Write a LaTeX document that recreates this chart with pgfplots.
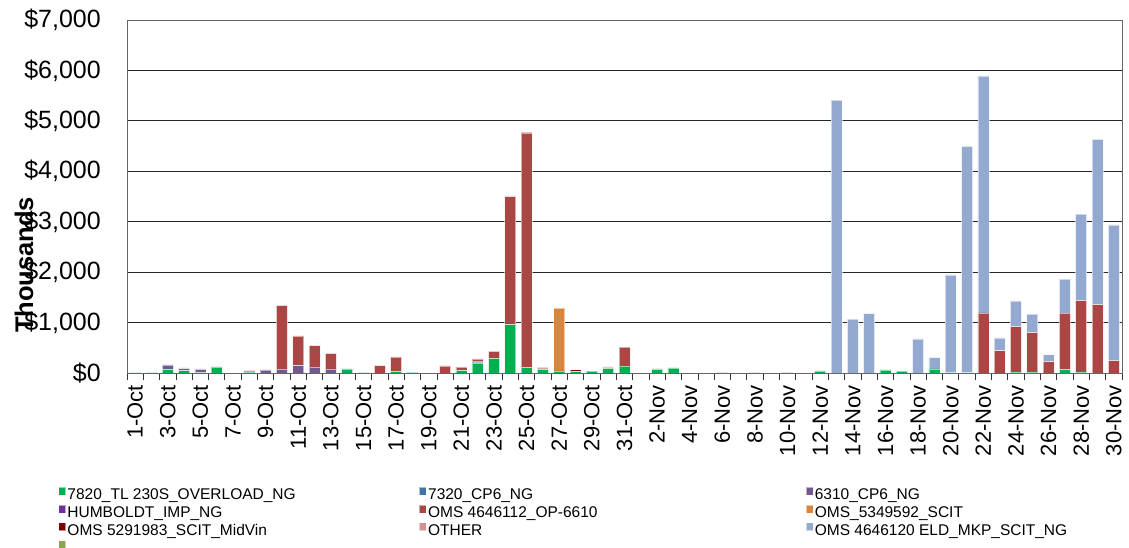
\documentclass[border=0pt]{standalone}
\usepackage{fontspec}
\setmainfont{Liberation Sans}
\usepackage{pgfplots}
\usepackage{pgfplotstable}
\pgfplotsset{compat=1.18}
\definecolor{cg}{HTML}{00B050}
\definecolor{cb}{HTML}{4572A7}
\definecolor{cp}{HTML}{71588F}
\definecolor{ch}{HTML}{7030A0}
\definecolor{cr}{HTML}{AA4643}
\definecolor{co}{HTML}{DB843D}
\definecolor{cm}{HTML}{7F0000}
\definecolor{ct}{HTML}{D19392}
\definecolor{cl}{HTML}{93A9CF}
\definecolor{cu}{HTML}{89A54E}
\pgfplotsset{mybar/.style={fill=#1, draw=white, draw opacity=0.55, line width=0.7pt,
  legend image code/.code={\fill[fill=#1] (0pt,0.5pt) rectangle (7pt,8.5pt);}}}
\newcommand{\ca}[1]{\makebox[350pt][l]{#1}}
\newcommand{\cb}[1]{\makebox[376pt][l]{#1}}
\pgfplotstableread{
x g b p h r o m t l
0 8 0 0 0 0 0 0 0 0
1 5 0 0 0 0 0 0 0 0
2 70 0 90 0 0 0 0 0 0
3 45 0 40 0 0 0 0 15 0
4 10 0 60 0 0 0 0 10 0
5 115 0 0 0 0 0 0 10 0
6 0 0 0 0 0 0 0 0 0
7 20 0 15 0 0 0 0 15 0
8 0 0 60 0 0 0 0 0 0
9 0 0 75 0 1260 0 0 10 0
10 0 0 145 0 585 0 0 5 0
11 0 0 120 0 420 0 0 10 0
12 0 0 80 0 305 0 0 15 0
13 80 0 0 0 0 0 0 0 0
14 5 0 0 0 0 0 0 0 0
15 0 0 0 0 145 0 0 0 0
16 30 0 0 0 285 0 0 5 0
17 10 0 0 0 0 0 0 0 0
18 0 0 0 0 0 0 0 0 0
19 0 0 0 0 140 0 0 0 0
20 45 0 0 0 70 0 0 0 0
21 195 25 15 0 40 0 0 5 0
22 290 0 0 0 140 0 0 5 0
23 960 0 0 0 2540 0 0 10 0
24 110 0 0 0 4650 0 0 15 0
25 70 0 0 0 30 0 0 5 0
26 40 0 0 0 0 1250 0 0 0
27 30 0 0 0 0 0 35 0 0
28 35 0 0 0 0 0 0 0 0
29 90 0 0 0 0 0 0 30 0
30 140 0 0 0 375 0 0 0 0
31 0 0 0 0 0 0 0 0 0
32 70 0 0 0 10 0 0 0 0
33 100 0 0 0 0 0 0 0 0
34 0 0 0 0 0 0 0 0 0
35 0 0 0 0 0 0 0 0 0
36 5 0 0 0 0 0 0 0 0
37 0 0 0 0 0 0 0 0 0
38 0 0 0 0 5 0 0 0 0
39 0 0 0 0 0 0 0 0 0
40 0 0 0 0 0 0 0 10 0
41 0 0 0 0 0 0 0 0 0
42 35 0 0 0 0 0 0 10 0
43 0 0 0 0 0 0 0 0 5410
44 0 0 0 0 0 0 0 0 1070
45 0 0 0 0 0 0 0 0 1175
46 60 0 0 0 0 0 0 0 0
47 35 0 0 0 0 0 0 0 0
48 0 0 0 0 0 0 0 0 675
49 80 0 0 0 0 0 0 0 225
50 5 0 0 0 0 0 0 0 1940
51 5 0 0 0 0 0 0 0 4490
52 0 0 0 0 1190 0 0 0 4700
53 0 0 0 0 440 0 0 0 255
54 15 0 0 0 905 0 0 0 510
55 15 0 0 0 785 0 0 0 365
56 0 0 0 0 225 0 0 0 135
57 70 0 0 0 1115 0 0 0 675
58 20 0 0 0 1415 0 0 0 1715
59 0 0 0 0 1355 0 0 0 3280
60 0 0 0 0 245 0 0 0 2690
}\data
\begin{document}
\begin{tikzpicture}
\useasboundingbox (0,0) rectangle (1129pt,548pt);
\begin{axis}[
  at={(127pt,175pt)}, anchor=south west,
  scale only axis, width=995pt, height=353pt,
  ybar stacked, bar width=11pt,
  xmin=-0.5, xmax=60.5, ymin=0, ymax=7000,
  axis line style={draw=black!60, line width=0.8pt},
  ymajorgrids, grid style={black!85, line width=0.9pt},
  ytick={0,1000,...,7000},
  yticklabels={{\$0},{\$1,000},{\$2,000},{\$3,000},{\$4,000},{\$5,000},{\$6,000},{\$7,000}},
  yticklabel style={font=\fontsize{25}{30}\selectfont, inner sep=0pt, anchor=east, xshift=-19pt},
  ytick style={draw=none},
  xtick={-0.5,0.5,...,60.5},
  xticklabels={1-Oct,,3-Oct,,5-Oct,,7-Oct,,9-Oct,,11-Oct,,13-Oct,,15-Oct,,17-Oct,,19-Oct,,21-Oct,,23-Oct,,25-Oct,,27-Oct,,29-Oct,,31-Oct,,2-Nov,,4-Nov,,6-Nov,,8-Nov,,10-Nov,,12-Nov,,14-Nov,,16-Nov,,18-Nov,,20-Nov,,22-Nov,,24-Nov,,26-Nov,,28-Nov,,30-Nov,},
  xticklabel style={font=\fontsize{22}{26}\selectfont, xshift=8.15pt, yshift=-5pt, rotate=90, anchor=east, inner sep=0pt},
  xtick style={draw=black!80, line width=0.8pt},
  every tick/.append style={black!80, line width=0.8pt},
  tick align=outside,
  major tick length=7pt,
  xtick pos=left, ytick pos=left,
  ylabel={Thousands},
  ylabel style={at={(axis description cs:-0.1035,0.306)}, anchor=center, font=\bfseries\fontsize{25.5}{30}\selectfont},
  legend columns=3,
  legend cell align=left,
  legend style={at={(axis description cs:-0.0693,-0.3215)}, anchor=north west,
    draw=none, fill=none, inner sep=0pt, row sep=0.5pt,
    font=\fontsize{15.5}{17}\selectfont,
    nodes={inner sep=1.5pt, text height=11pt, text depth=3pt}},
]
\addplot[mybar=cg] table[x=x,y=g]{\data};
\addlegendentry{\ca{7820\_TL 230S\_OVERLOAD\_NG}}
\addplot[mybar=cb] table[x=x,y=b]{\data};
\addlegendentry{\cb{7320\_CP6\_NG}}
\addplot[mybar=cp] table[x=x,y=p]{\data};
\addlegendentry{6310\_CP6\_NG}
\addplot[mybar=ch] table[x=x,y=h]{\data};
\addlegendentry{\ca{HUMBOLDT\_IMP\_NG}}
\addplot[mybar=cr] table[x=x,y=r]{\data};
\addlegendentry{\cb{OMS 4646112\_OP-6610}}
\addplot[mybar=co] table[x=x,y=o]{\data};
\addlegendentry{OMS\_5349592\_SCIT}
\addplot[mybar=cm] table[x=x,y=m]{\data};
\addlegendentry{\ca{OMS 5291983\_SCIT\_MidVin}}
\addplot[mybar=ct] table[x=x,y=t]{\data};
\addlegendentry{\cb{OTHER}}
\addplot[mybar=cl] table[x=x,y=l]{\data};
\addlegendentry{OMS 4646120 ELD\_MKP\_SCIT\_NG}
\addlegendimage{mybar=cu}
\addlegendentry{\ca{}}
\end{axis}
\end{tikzpicture}
\end{document}
